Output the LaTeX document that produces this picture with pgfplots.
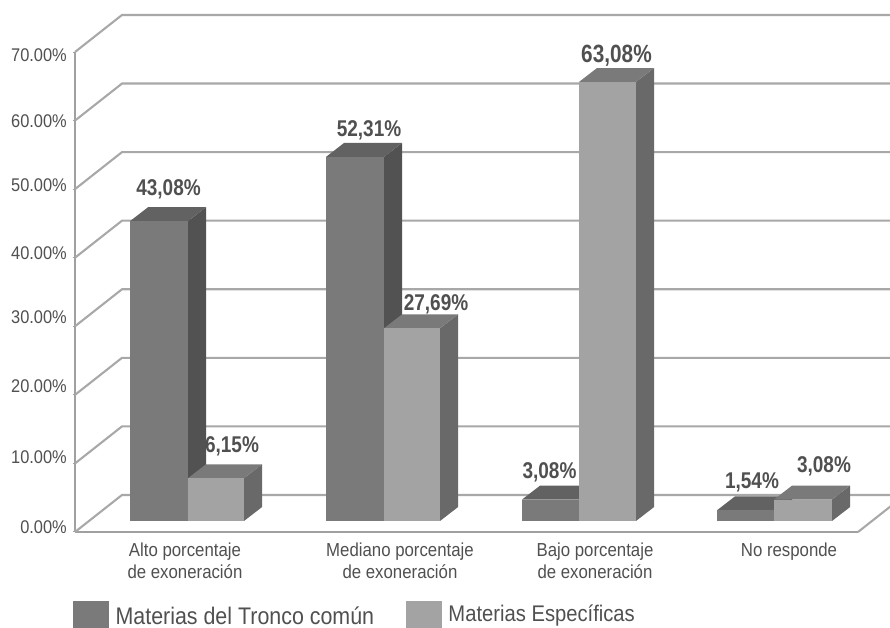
\documentclass[border=0pt]{standalone}
\usepackage{pgfplots}
\pgfplotsset{compat=1.18}
\usepackage{fontspec}
\usepackage{graphicx}
\setmainfont{Liberation Sans}
\definecolor{labelgray}{HTML}{505050}
\definecolor{gridgray}{HTML}{A8A8A8}
\definecolor{axisgray}{HTML}{A0A0A0}
\definecolor{frontA}{HTML}{7A7A7A}
\definecolor{topA}{HTML}{626262}
\definecolor{sideA}{HTML}{525252}
\definecolor{frontB}{HTML}{A3A3A3}
\definecolor{topB}{HTML}{7A7A7A}
\definecolor{sideB}{HTML}{696969}
% tall, slightly stretched lettering used for ticks and value labels
\newcommand\tall[1]{\scalebox{1}[1.12]{#1}}
% tick label with its own vertical offset
\newcommand\yl[2]{\raisebox{#1pt}[0pt][0pt]{\tall{#2\%}}}
% value label over a column
\newcommand\vl[1]{\scalebox{1}[1.2]{#1\%}}
% one wall line: front edge, receding segment, back wall
\newcommand\wall[2]{\addplot[gridgray,line width=2.1pt,forget plot] coordinates {(75,#1) (122,#2) (895,#2)};}
% extruded column: left x, right x, value, front/top/side colours
\newcommand\column[6]{%
  \pgfmathsetmacro\xa{#1+18}\pgfmathsetmacro\xb{#2+18}\pgfmathsetmacro\vt{#3+2}%
  \edef\doit{%
  \noexpand\addplot[fill=#6,draw=none,forget plot] coordinates {(#2,0) (\xb,2) (\xb,\vt) (#2,#3)} --cycle;
  \noexpand\addplot[fill=#5,draw=none,forget plot] coordinates {(#1,#3) (#2,#3) (\xb,\vt) (\xa,\vt)} --cycle;
  \noexpand\addplot[fill=#4,draw=none,forget plot] coordinates {(#1,0) (#2,0) (#2,#3) (#1,#3)} --cycle;
  }\doit}
\begin{document}
\begin{tikzpicture}[x=1pt,y=1pt]
\path[use as bounding box,clip] (0,0) rectangle (890,628);
% wall with the percentage scale
\begin{axis}[
  at={(75pt,96pt)},anchor=south west,scale only axis,
  width=783pt,height=480pt,
  xmin=75,xmax=858,ymin=0,ymax=70,clip=false,
  axis lines=left,axis line style={-,axisgray,line width=2pt},
  tick align=outside,
  major tick length=2.5pt,minor tick length=2pt,
  tick style={axisgray,line width=1pt},
  ytick={0,10,...,70},
  yticklabels={\yl{-1.5}{0.00},\yl{-0.5}{10.00},\yl{2.5}{20.00},\yl{2.5}{30.00},\yl{-1.5}{40.00},\yl{-2.5}{50.00},\yl{-6.5}{60.00},\yl{-9.5}{70.00}},
  yticklabel style={font=\fontsize{16.4}{18}\selectfont,text=labelgray,inner xsep=0pt,xshift=-5.5pt},
  xtick={185,400,595,789},
  minor xtick={270,466.5,663},
  xtick style={draw=none},
  xticklabels={\tall{Alto porcentaje}\\\tall{de exoneración},\tall{Mediano porcentaje}\\\tall{de exoneración},\tall{Bajo porcentaje}\\\tall{de exoneración},\tall{No responde}},
  xticklabel style={font=\fontsize{16.8}{22}\selectfont,text=labelgray,align=center,anchor=north,yshift=-5pt},
  legend columns=2,
  legend style={at={(-2pt,-101.5pt)},anchor=south west,draw=none,fill=none,inner sep=0pt,
    font=\fontsize{21.4}{24}\selectfont,text=labelgray,
    /tikz/every odd column/.style={column sep=5pt},
    /tikz/every even column/.style={column sep=30pt}},
  legend image code/.code={\fill[#1] (0pt,-17pt) rectangle (35pt,15pt);},
]
\addlegendimage{frontA}\addlegendentry{\tall{Materias del Tronco común}}
\addlegendimage{frontB}\addlegendentry{\raisebox{4pt}{\fontsize{20.2}{24}\selectfont\tall{Materias Específicas}}}
\wall{0}{5.4}
\wall{10}{15.4}
\wall{20}{25.4}
\wall{30}{35.4}
\wall{40}{45.4}
\wall{50}{55.4}
\wall{60}{65.4}
\wall{70}{75.4}
\addplot[gridgray,line width=2.1pt,forget plot] coordinates {(858,0) (905,5.4)};
\end{axis}
% columns and their value labels
\begin{axis}[
  at={(75pt,107pt)},anchor=south west,scale only axis,
  width=783pt,height=487.2pt,
  xmin=75,xmax=858,ymin=0,ymax=70,clip=false,axis lines=none,
]
\column{130}{188}{43.08}{frontA}{topA}{sideA}
\column{188}{244}{6.15}{frontB}{topB}{sideB}
\column{326}{384}{52.31}{frontA}{topA}{sideA}
\column{384}{440}{27.69}{frontB}{topB}{sideB}
\column{522}{579}{3.08}{frontA}{topA}{sideA}
\column{579}{636}{63.08}{frontB}{topB}{sideB}
\column{717}{774}{1.54}{frontA}{topA}{sideA}
\column{774}{832}{3.08}{frontB}{topB}{sideB}
\begin{scope}[every node/.style={font=\fontsize{19}{20}\bfseries\selectfont,text=labelgray,inner sep=0pt}]
\node at (axis cs:168.5,47.7) {\vl{43,08}};
\node at (axis cs:232,10.7) {\vl{6,15}};
\node at (axis cs:369,56.1) {\vl{52,31}};
\node at (axis cs:436,31.1) {\vl{27,69}};
\node at (axis cs:549.5,7) {\vl{3,08}};
\node[font=\fontsize{20.8}{22}\bfseries\selectfont] at (axis cs:616.5,66.8) {\vl{63,08}};
\node at (axis cs:752,5.6) {\vl{1,54}};
\node at (axis cs:824,7.9) {\vl{3,08}};
\end{scope}
\end{axis}
\end{tikzpicture}
\end{document}
